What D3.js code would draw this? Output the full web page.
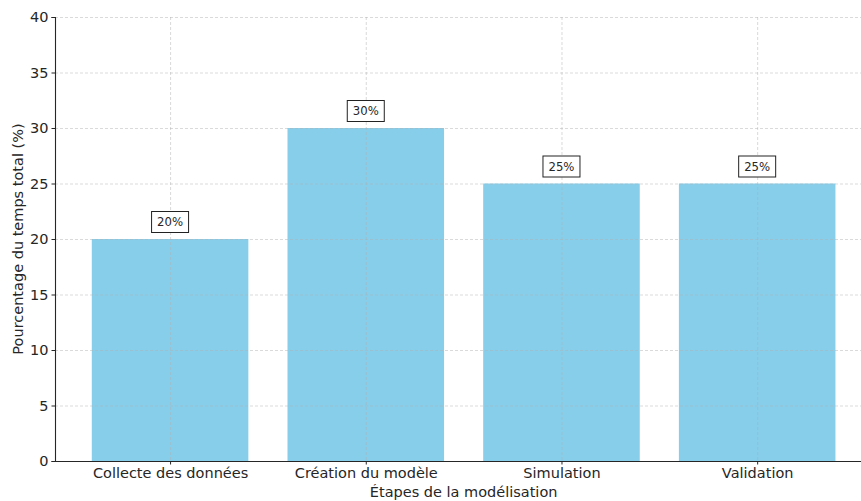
<!DOCTYPE html>
<html>
<head>
<meta charset="utf-8">
<script src="https://cdn.jsdelivr.net/npm/d3@7"></script>
<style>
  html, body { margin: 0; padding: 0; background: #fff; }
  svg { display: block; }
  text { font-family: "DejaVu Sans", sans-serif; fill: #262626; }
</style>
</head>
<body>
<svg id="chart" width="861" height="501"></svg>
<script>
// Share of total time spent on each modelling stage
const categories = ["Collecte des données", "Création du modèle", "Simulation", "Validation"];
const values = [20, 30, 25, 25];
const yTicks = [0, 5, 10, 15, 20, 25, 30, 35, 40];
const xTitle = "Étapes de la modélisation";
const yTitle = "Pourcentage du temps total (%)";

const W = 861, H = 501;
const plotLeft = 55, plotTop = 17, plotBottom = 461;
const step = 195.7;            // distance between category centres
const pad = 0.588;             // axis margin beyond outer centres, in category units
const fontSize = 14.5;

const svg = d3.select("#chart");

const x = d3.scaleLinear()
  .domain([-pad, categories.length - 1 + pad])
  .range([plotLeft, plotLeft + step * (categories.length - 1 + 2 * pad)]);
const y = d3.scaleLinear().domain([0, 40]).range([plotBottom, plotTop]);
const barW = 0.8;

// bars
svg.append("g").selectAll("rect").data(values).join("rect")
  .attr("x", (d, i) => x(i - barW / 2))
  .attr("width", x(barW) - x(0))
  .attr("y", d => y(d))
  .attr("height", d => y(0) - y(d))
  .attr("fill", "#87ceeb");

// dashed grid drawn over the bars
const grid = svg.append("g").attr("stroke", "#b0b0b0").attr("stroke-opacity", 0.6)
  .attr("stroke-width", 0.8).attr("stroke-dasharray", "3,2");
grid.selectAll("line.h").data(yTicks).join("line").attr("class", "h")
  .attr("x1", plotLeft).attr("x2", W).attr("y1", d => y(d) + 0.5).attr("y2", d => y(d) + 0.5);
grid.selectAll("line.v").data(categories).join("line").attr("class", "v")
  .attr("x1", (d, i) => x(i) + 0.5).attr("x2", (d, i) => x(i) + 0.5)
  .attr("y1", plotTop).attr("y2", plotBottom);

// y axis
const yAxis = svg.append("g").attr("transform", `translate(${plotLeft},0)`)
  .call(d3.axisLeft(y).tickValues(yTicks).tickSize(3.5).tickPadding(3));
yAxis.select(".domain").attr("stroke", "#262626").attr("stroke-width", 1.1);
yAxis.selectAll(".tick line").attr("stroke", "#262626");
yAxis.selectAll(".tick text").attr("font-size", fontSize).attr("fill", "#262626")
  .style("font-family", "DejaVu Sans, sans-serif");

// x axis
const xAxis = svg.append("g").attr("transform", `translate(0,${plotBottom})`)
  .call(d3.axisBottom(x).tickValues(d3.range(categories.length))
    .tickFormat(i => categories[i]).tickSize(3.5).tickPadding(3).tickSizeOuter(0));
xAxis.select(".domain").attr("stroke", "#262626").attr("stroke-width", 1.1);
xAxis.selectAll(".tick line").attr("stroke", "#262626");
xAxis.selectAll(".tick text").attr("font-size", fontSize).attr("fill", "#262626")
  .style("font-family", "DejaVu Sans, sans-serif");

// axis titles
svg.append("text").attr("x", x(1.5)).attr("y", 497).attr("text-anchor", "middle")
  .attr("font-size", fontSize).text(xTitle);
svg.append("text").attr("transform", `translate(23,${(plotTop + plotBottom) / 2}) rotate(-90)`)
  .attr("text-anchor", "middle").attr("font-size", fontSize).text(yTitle);

// value labels in boxes above the bars
const labels = svg.append("g").selectAll("g").data(values).join("g")
  .attr("transform", (d, i) => `translate(${x(i)},${y(d) - 17})`);
labels.append("rect").attr("x", -18.5).attr("y", -10.5).attr("width", 37).attr("height", 21)
  .attr("fill", "#fff").attr("stroke", "#222").attr("stroke-width", 1);
labels.append("text").attr("text-anchor", "middle").attr("dy", "0.36em")
  .attr("font-size", 11.7).text(d => d + "%");
</script>
</body>
</html>
